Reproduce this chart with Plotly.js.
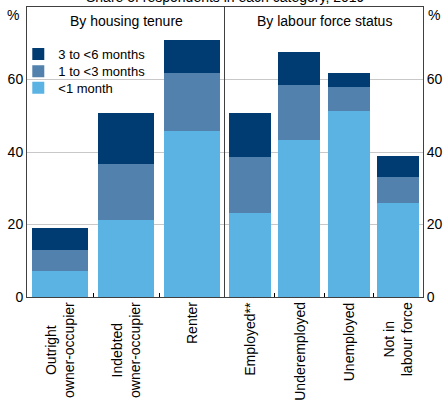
<!DOCTYPE html>
<html>
<head>
<meta charset="utf-8">
<script src="https://cdn.plot.ly/plotly-3.0.1.min.js"></script>
<style>html,body{margin:0;padding:0;background:#fff;}#chart{width:444px;height:403px;}</style>
</head>
<body>
<div id="chart"></div>
<script>
// Categories
var housingCats = ['Outright<br>owner-occupier', 'Indebted<br>owner-occupier', 'Renter'];
var labourCats = ['Employed**', 'Underemployed', 'Unemployed', 'Not in<br>labour force'];
var panelTitles = ['By housing tenure', 'By labour force status'];
var chartTitle = 'Share of respondents in each category, 2019';
var seriesNames = ['<1 month', '1 to <3 months', '3 to <6 months'];

// Values (per cent), stacked bottom to top
var housingLess1 = [7.2, 21.3, 45.8];
var housing1to3 = [5.8, 15.5, 16.0];
var housing3to6 = [6.1, 14.0, 9.2];
var labourLess1 = [23.2, 43.4, 51.2, 26.0];
var labour1to3 = [15.4, 15.0, 6.6, 7.2];
var labour3to6 = [12.2, 9.1, 4.1, 5.6];

var yTicks = [0, 20, 40, 60];

var colors = ['#5ab3e3', '#5381ad', '#003c71'];
var font = 'Liberation Sans, Arial, sans-serif';

var housingSeries = [housingLess1, housing1to3, housing3to6];
var labourSeries = [labourLess1, labour1to3, labour3to6];
// one legend box per series so the rows can sit closer together
var legendIds = ['legend3', 'legend2', 'legend'];

var traces = [];
for (var i = 0; i < 3; i++) {
  traces.push({
    type: 'bar', x: housingCats, y: housingSeries[i], name: seriesNames[i],
    marker: {color: colors[i], line: {width: 0}}, xaxis: 'x', yaxis: 'y',
    legend: legendIds[i], legendgroup: 'g' + i, showlegend: true, hoverinfo: 'skip'
  });
  traces.push({
    type: 'bar', x: labourCats, y: labourSeries[i], name: seriesNames[i],
    marker: {color: colors[i], line: {width: 0}}, xaxis: 'x2', yaxis: 'y2',
    legendgroup: 'g' + i, showlegend: false, hoverinfo: 'skip'
  });
}

var annotations = [];
function addCatLabels(cats, xref) {
  cats.forEach(function (c) {
    annotations.push({
      x: c, xref: xref, y: 0, yref: 'paper', yanchor: 'top', xanchor: 'center',
      yshift: -3, text: c, textangle: -90, showarrow: false, align: 'center',
      font: {family: font, size: 14, color: '#000'}
    });
  });
}
addCatLabels(housingCats, 'x');
addCatLabels(labourCats, 'x2');

annotations.push({x: 0.25, xref: 'paper', xanchor: 'center', y: 0.952, yref: 'paper', yanchor: 'middle',
  text: panelTitles[0], showarrow: false, font: {family: font, size: 14, color: '#000'}});
annotations.push({x: 0.75, xref: 'paper', xanchor: 'center', y: 0.952, yref: 'paper', yanchor: 'middle',
  text: panelTitles[1], showarrow: false, font: {family: font, size: 14, color: '#000'}});
annotations.push({x: 0.5, xref: 'paper', xanchor: 'center', y: 1, yref: 'paper', yanchor: 'bottom', text: chartTitle,
  showarrow: false, font: {family: font, size: 14, color: '#000'}});
annotations.push({x: 0, xref: 'paper', xanchor: 'right', xshift: -6, y: 1, yref: 'paper', yanchor: 'top', yshift: 2,
  text: '%', showarrow: false, font: {family: font, size: 14, color: '#000'}});
annotations.push({x: 1, xref: 'paper', xanchor: 'left', xshift: 3, y: 1, yref: 'paper', yanchor: 'top', yshift: 2,
  text: '%', showarrow: false, font: {family: font, size: 14, color: '#000'}});

var axisColor = '#404040';
var yBase = {
  range: [0, 80], tickvals: yTicks, ticktext: yTicks.map(String), showgrid: true, gridcolor: '#c8c8c8',
  gridwidth: 1, zeroline: false, showline: true, linecolor: axisColor, linewidth: 1,
  ticks: '', tickfont: {family: font, size: 14, color: '#000'}, fixedrange: true
};
var xBase = {
  type: 'category', showticklabels: false, showline: true, linecolor: axisColor, linewidth: 1,
  mirror: true, ticks: 'inside', tickson: 'boundaries', ticklen: 4, tickcolor: '#000',
  showgrid: false, zeroline: false, fixedrange: true
};

function legendAt(yPaper) {
  return {x: -0.022, y: yPaper, xanchor: 'left', yanchor: 'middle',
    bgcolor: 'rgba(0,0,0,0)', borderwidth: 0, font: {family: font, size: 13, color: '#000'},
    itemclick: false, itemdoubleclick: false};
}

var layout = {
  width: 444, height: 403,
  margin: {l: 27, r: 21, t: 7, b: 106, pad: 0},
  paper_bgcolor: '#fff', plot_bgcolor: '#fff',
  barmode: 'stack', bargap: 0.15,
  showlegend: true,
  legend: legendAt(0.838),
  legend2: legendAt(0.778),
  legend3: legendAt(0.721),
  xaxis: Object.assign({}, xBase, {domain: [0, 0.5], anchor: 'y'}),
  xaxis2: Object.assign({}, xBase, {domain: [0.5, 1], anchor: 'y2'}),
  yaxis: Object.assign({}, yBase, {anchor: 'x', side: 'left', mirror: false}),
  yaxis2: Object.assign({}, yBase, {anchor: 'x2', side: 'right', mirror: true}),
  annotations: annotations
};

Plotly.newPlot('chart', traces, layout, {displayModeBar: false, staticPlot: true});
</script>
</body>
</html>
